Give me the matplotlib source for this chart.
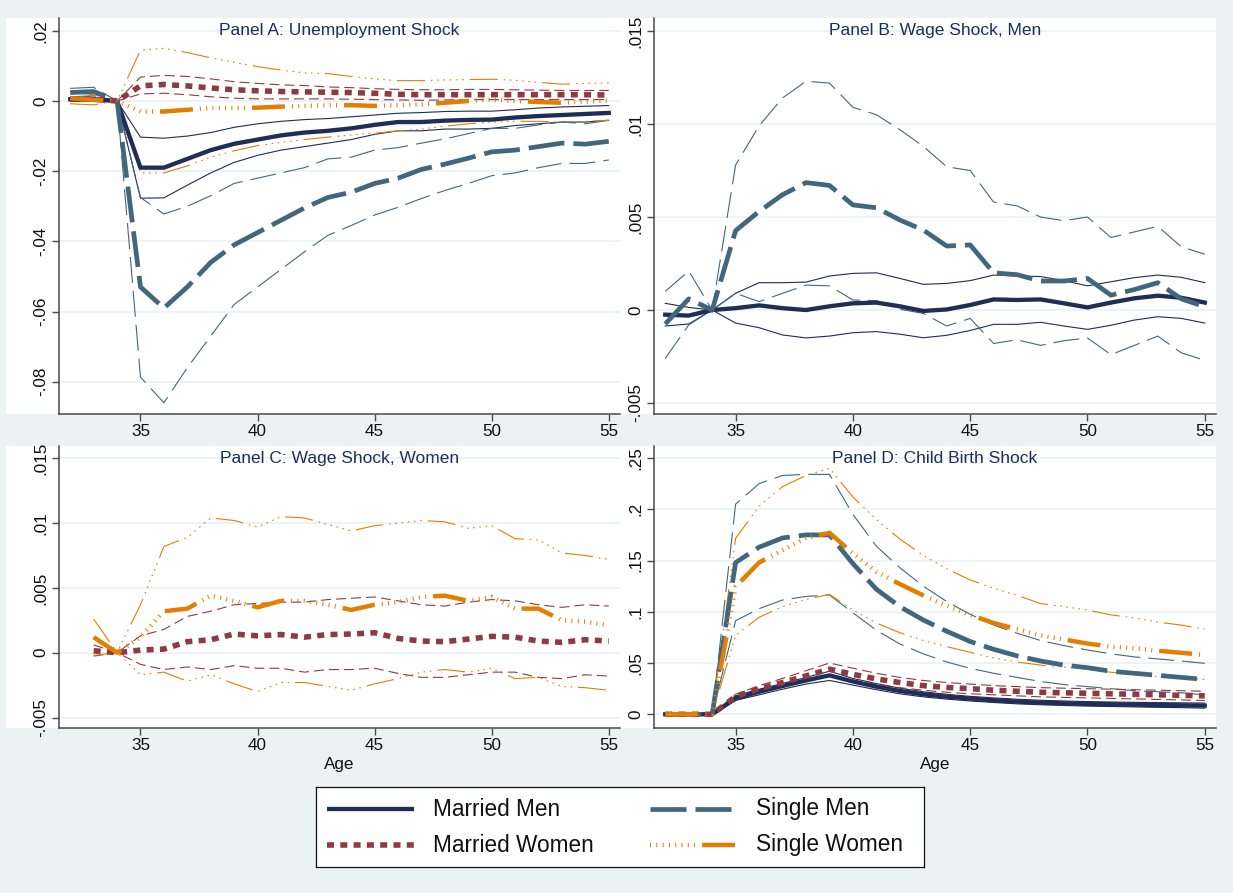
import numpy as np
import matplotlib
matplotlib.use("Agg")
import matplotlib.pyplot as plt
from matplotlib.patches import Rectangle

nan = np.nan

# ---- data ----
AGES = list(range(32, 56))

# Panel A: unemployment shock
A_MM = [0.0005, 0.0004, 0, -0.019, -0.019, -0.0165, -0.014, -0.0122, -0.011, -0.0098, -0.009, -0.0085,
        -0.0078, -0.0068, -0.006, -0.006, -0.0056, -0.0054, -0.0053, -0.0047, -0.0043, -0.004, -0.0037, -0.0034]
A_MM_HI = [0.001, 0.0009, 0, -0.0103, -0.0106, -0.010, -0.009, -0.0075, -0.0065, -0.0058, -0.0053, -0.005,
           -0.0045, -0.004, -0.0035, -0.0033, -0.003, -0.0029, -0.0029, -0.0025, -0.002, -0.0017, -0.0015, -0.0013]
A_MM_LO = [0.0, 0.0, 0, -0.0277, -0.0276, -0.024, -0.0205, -0.0175, -0.0155, -0.014, -0.013, -0.012,
           -0.011, -0.0095, -0.0085, -0.0085, -0.008, -0.008, -0.0078, -0.007, -0.0065, -0.006, -0.006, -0.0055]
A_SM = [0.0024, 0.0027, 0, -0.053, -0.059, -0.053, -0.046, -0.041, -0.0375, -0.034, -0.0305, -0.0275,
        -0.026, -0.0235, -0.022, -0.0195, -0.018, -0.0163, -0.0145, -0.014, -0.013, -0.012, -0.0123, -0.0115]
A_SM_HI = [0.0036, 0.0039, 0, -0.0275, -0.0322, -0.030, -0.027, -0.0235, -0.022, -0.0205, -0.019, -0.0165,
           -0.016, -0.014, -0.0133, -0.012, -0.0108, -0.0093, -0.0078, -0.0078, -0.0068, -0.006, -0.0065, -0.0055]
A_SM_LO = [0.0012, 0.0015, 0, -0.0787, -0.086, -0.076, -0.067, -0.058, -0.053, -0.048, -0.043, -0.0383,
           -0.0355, -0.0325, -0.0303, -0.0278, -0.0255, -0.0235, -0.0213, -0.0205, -0.019, -0.0178, -0.0178, -0.0168]
A_MW = [0.0006, 0.0005, 0, 0.0043, 0.0047, 0.0043, 0.0037, 0.0032, 0.0029, 0.0027, 0.0026, 0.0025,
        0.0024, 0.0022, 0.0019, 0.0018, 0.0018, 0.0018, 0.0018, 0.0018, 0.0018, 0.0018, 0.0018, 0.0017]
A_MW_HI = [0.0012, 0.0011, 0, 0.0068, 0.0073, 0.007, 0.0063, 0.0055, 0.005, 0.0046, 0.0044, 0.004,
           0.0038, 0.0035, 0.0033, 0.0032, 0.0032, 0.0033, 0.0033, 0.0032, 0.0031, 0.003, 0.003, 0.003]
A_MW_LO = [0.0, -0.0001, 0, 0.002, 0.0022, 0.0018, 0.0012, 0.0008, 0.0006, 0.0006, 0.0006, 0.0006,
           0.0005, 0.0004, 0.0003, 0.0002, 0.0003, 0.0004, 0.0004, 0.0004, 0.0004, 0.0004, 0.0004, 0.0004]
A_SW = [0.0008, 0.0003, 0, -0.003, -0.003, -0.0025, -0.002, -0.002, -0.0019, -0.0016, -0.0014, -0.0012,
        -0.0012, -0.0014, -0.0012, -0.001, -0.0005, 0.0, 0.0004, 0.0, -0.0003, -0.0005, -0.0002, 0.0002]
A_SW_HI = [0.0025, 0.0018, 0, 0.0145, 0.015, 0.0138, 0.0123, 0.011, 0.0098, 0.0088, 0.008, 0.0078,
           0.007, 0.0063, 0.0058, 0.0058, 0.006, 0.0061, 0.0062, 0.0059, 0.0053, 0.0048, 0.005, 0.0052]
A_SW_LO = [-0.0008, -0.0011, 0, -0.0205, -0.0205, -0.0185, -0.016, -0.0142, -0.0127, -0.0118, -0.011, -0.0103,
           -0.0097, -0.0092, -0.0085, -0.008, -0.0072, -0.0065, -0.006, -0.0058, -0.0058, -0.006, -0.0058, -0.0055]

# Panel B: wage shock, men
B_MM = [-0.00025, -0.0003, 0, 0.0001, 0.00025, 0.0001, 0.0, 0.0002, 0.00036, 0.0004, 0.0002, -0.00005,
        0.00003, 0.00027, 0.00057, 0.00054, 0.00057, 0.00036, 0.00014, 0.0004, 0.00063, 0.00077, 0.00066, 0.0004]
B_MM_HI = [0.00036, 0.00014, 0, 0.0009, 0.00147, 0.00147, 0.0015, 0.00183, 0.00197, 0.002, 0.0017, 0.00138,
           0.00143, 0.00158, 0.00188, 0.00183, 0.0018, 0.00158, 0.0013, 0.00152, 0.00174, 0.00188, 0.00176, 0.00147]
B_MM_LO = [-0.00086, -0.00075, 0, -0.0007, -0.00095, -0.00134, -0.0015, -0.0014, -0.00122, -0.00116, -0.0013, -0.00149,
           -0.00136, -0.0011, -0.00077, -0.00077, -0.00066, -0.00086, -0.00104, -0.00082, -0.00054, -0.00036, -0.00045, -0.0007]
B_SM = [-0.00075, 0.0006, 0, 0.00427, 0.0053, 0.0062, 0.00685, 0.0067, 0.00565, 0.0055, 0.00484, 0.0043,
        0.00344, 0.0035, 0.002, 0.0019, 0.00156, 0.00156, 0.0017, 0.0008, 0.0011, 0.00147, 0.0006, 0.00018]
B_SM_HI = [0.001, 0.0021, 0, 0.0078, 0.0099, 0.0114, 0.0123, 0.0122, 0.0109, 0.0105, 0.0097, 0.0088,
           0.0077, 0.0075, 0.0058, 0.0056, 0.005, 0.0048, 0.005, 0.0039, 0.0042, 0.0045, 0.0034, 0.003]
B_SM_LO = [-0.0026, -0.0008, 0, 0.0009, 0.00045, 0.0009, 0.00134, 0.0013, 0.00054, 0.0005, 0.00004, -0.00018,
           -0.00086, -0.00045, -0.0018, -0.0016, -0.0019, -0.00165, -0.0015, -0.0024, -0.0019, -0.0014, -0.0023, -0.0027]

# Panel C: wage shock, women (no estimate at 32)
C_MW = [nan, 0.00015, 0, 0.0002, 0.00028, 0.00085, 0.001, 0.00144, 0.0013, 0.0014, 0.0012, 0.0014,
        0.00144, 0.00154, 0.0011, 0.0009, 0.00085, 0.00105, 0.00126, 0.0012, 0.0009, 0.0008, 0.001, 0.0009]
C_MW_HI = [nan, 0.0006, 0, 0.0013, 0.0018, 0.0028, 0.0032, 0.0037, 0.0038, 0.0039, 0.0039, 0.0041,
           0.0042, 0.0043, 0.004, 0.0037, 0.0036, 0.0039, 0.0041, 0.004, 0.0037, 0.0035, 0.0037, 0.0036]
C_MW_LO = [nan, -0.00026, 0, -0.0009, -0.0013, -0.0011, -0.0013, -0.001, -0.0012, -0.0012, -0.0015, -0.0013,
           -0.0013, -0.0012, -0.0016, -0.0019, -0.0019, -0.0017, -0.0015, -0.0015, -0.0019, -0.002, -0.0017, -0.0018]
C_SW = [nan, 0.0012, 0, 0.0012, 0.0032, 0.0034, 0.0044, 0.004, 0.0035, 0.004, 0.004, 0.0037,
        0.0033, 0.0037, 0.0039, 0.0043, 0.0044, 0.004, 0.0043, 0.0034, 0.0034, 0.0025, 0.0024, 0.0021]
C_SW_HI = [nan, 0.0026, 0, 0.0037, 0.0082, 0.0089, 0.0104, 0.0102, 0.0097, 0.0105, 0.0104, 0.0099,
           0.0094, 0.0098, 0.01, 0.0102, 0.0101, 0.0096, 0.0098, 0.0088, 0.0087, 0.0077, 0.0075, 0.0072]
C_SW_LO = [nan, -0.0002, 0, -0.0017, -0.0015, -0.0022, -0.0017, -0.0024, -0.003, -0.0023, -0.0023, -0.0026,
           -0.0029, -0.0024, -0.002, -0.0015, -0.0013, -0.0015, -0.0012, -0.002, -0.0019, -0.0026, -0.0027, -0.0029]

# Panel D: child birth shock
D_MM = [0, 0, 0, 0.0156, 0.022, 0.0276, 0.033, 0.038, 0.032, 0.027, 0.0228, 0.0195,
        0.0172, 0.0153, 0.0137, 0.0124, 0.0114, 0.0107, 0.0101, 0.0098, 0.0094, 0.0091, 0.0088, 0.0085]
D_MM_HI = [0, 0, 0, 0.018, 0.0245, 0.030, 0.036, 0.042, 0.035, 0.030, 0.0255, 0.022,
           0.0195, 0.0175, 0.016, 0.0147, 0.0137, 0.013, 0.0124, 0.012, 0.0117, 0.0114, 0.0112, 0.011]
D_MM_LO = [0, 0, 0, 0.0135, 0.019, 0.0245, 0.0295, 0.033, 0.0285, 0.024, 0.020, 0.017,
           0.0148, 0.013, 0.0115, 0.0102, 0.0093, 0.0086, 0.008, 0.0076, 0.0072, 0.0068, 0.0065, 0.006]
D_MW = [0, 0, 0, 0.0175, 0.025, 0.031, 0.0375, 0.044, 0.039, 0.0345, 0.031, 0.028,
        0.0262, 0.025, 0.0235, 0.0225, 0.0215, 0.021, 0.0205, 0.020, 0.0195, 0.019, 0.0185, 0.018]
D_MW_HI = [0, 0, 0, 0.0195, 0.028, 0.035, 0.0425, 0.050, 0.045, 0.040, 0.036, 0.033,
           0.031, 0.0295, 0.028, 0.027, 0.026, 0.0255, 0.025, 0.0245, 0.024, 0.0235, 0.023, 0.0225]
D_MW_LO = [0, 0, 0, 0.0155, 0.022, 0.0275, 0.033, 0.038, 0.0335, 0.029, 0.026, 0.0235,
           0.0215, 0.020, 0.019, 0.018, 0.017, 0.0165, 0.016, 0.0155, 0.015, 0.0145, 0.014, 0.0135]
D_SM = [0, 0, 0, 0.148, 0.163, 0.172, 0.175, 0.175, 0.147, 0.122, 0.105, 0.092,
        0.081, 0.071, 0.0634, 0.057, 0.052, 0.048, 0.0455, 0.042, 0.040, 0.038, 0.036, 0.034]
D_SM_HI = [0, 0, 0, 0.205, 0.225, 0.233, 0.234, 0.234, 0.195, 0.164, 0.143, 0.125,
           0.11, 0.0975, 0.087, 0.079, 0.072, 0.067, 0.0627, 0.059, 0.056, 0.054, 0.052, 0.0497]
D_SM_LO = [0, 0, 0, 0.0913, 0.103, 0.1115, 0.115, 0.1164, 0.099, 0.082, 0.0686, 0.059,
           0.051, 0.0449, 0.040, 0.036, 0.032, 0.029, 0.027, 0.025, 0.023, 0.022, 0.021, 0.0189]
D_SW = [0, 0, 0, 0.1245, 0.148, 0.16, 0.172, 0.177, 0.157, 0.139, 0.127, 0.116,
        0.106, 0.097, 0.089, 0.083, 0.077, 0.073, 0.069, 0.066, 0.0644, 0.062, 0.060, 0.0579]
D_SW_HI = [0, 0, 0, 0.1716, 0.203, 0.222, 0.233, 0.24, 0.212, 0.19, 0.171, 0.155,
           0.142, 0.131, 0.123, 0.116, 0.108, 0.105, 0.1017, 0.097, 0.094, 0.090, 0.087, 0.083]
D_SW_LO = [0, 0, 0, 0.077, 0.0946, 0.105, 0.112, 0.117, 0.1017, 0.089, 0.0796, 0.072,
           0.066, 0.0605, 0.055, 0.051, 0.048, 0.046, 0.0439, 0.041, 0.039, 0.037, 0.035, 0.034]

X_TICKS = [35, 40, 45, 50, 55]
A_YTICKS = [0.02, 0, -0.02, -0.04, -0.06, -0.08]
A_YLABELS = [".02", "0", "-.02", "-.04", "-.06", "-.08"]
BC_YTICKS = [0.015, 0.01, 0.005, 0, -0.005]
BC_YLABELS = [".015", ".01", ".005", "0", "-.005"]
D_YTICKS = [0.25, 0.2, 0.15, 0.1, 0.05, 0]
D_YLABELS = [".25", ".2", ".15", ".1", ".05", "0"]

GROUP_NAMES = {"MM": "Married Men", "SM": "Single Men", "MW": "Married Women", "SW": "Single Women"}

# ---- styling ----
FIG_W, FIG_H = 1233, 893
BG = "#eaf2f3"
TITLE_COLOR = "#1c2e5c"
plt.rcParams["font.family"] = ["Liberation Sans", "DejaVu Sans"]
plt.rcParams["lines.scale_dashes"] = False


def pt(*px_vals):
    """Convert pixel lengths (at 100 dpi) to points."""
    return tuple(v * 0.72 for v in px_vals)


SW_PATTERN = pt(*([33, 7] + [1, 5.3] * 7 + [1, 7]))
SW_CI_PATTERN = pt(*([28, 6] + [1.6, 4.6] * 5 + [1.6, 6]))

STYLES = {
    "MM": dict(color="#1f2d57",
               est=dict(lw=3.1, ls="-"),
               ci=dict(lw=0.8, ls="-")),
    "MW": dict(color="#8f3a42",
               est=dict(lw=4.0, ls=(0, pt(7, 6.3))),
               ci=dict(lw=0.8, ls=(0, pt(10, 5)))),
    "SM": dict(color="#41677f",
               est=dict(lw=3.4, ls=(0, pt(36, 9))),
               ci=dict(lw=0.8, ls=(0, pt(26, 8)))),
    "SW": dict(color="#e37e00",
               est=dict(lw=3.2, ls=(0, SW_PATTERN)),
               ci=dict(lw=0.8, ls=(0, SW_CI_PATTERN))),
}


def fig_box(left, top, right, bottom):
    return [left / FIG_W, 1 - bottom / FIG_H, (right - left) / FIG_W, (bottom - top) / FIG_H]


def draw_panel(fig, title, axes_px, white_px, ylim, yticks, ylabels, series, title_base, show_age):
    x0, y0, x1, y1 = white_px
    fig.add_artist(Rectangle((x0 / FIG_W, 1 - y1 / FIG_H), (x1 - x0) / FIG_W, (y1 - y0) / FIG_H,
                             transform=fig.transFigure, facecolor="white", edgecolor="none", zorder=-5))

    ax = fig.add_axes(fig_box(*axes_px))
    ax.set_facecolor("white")

    # confidence bands first, then the point estimates on top
    for key, est, lo, hi in series:
        st = STYLES[key]
        for band in (lo, hi):
            ax.plot(AGES, band, color=st["color"], linewidth=st["ci"]["lw"], linestyle=st["ci"]["ls"],
                    dash_capstyle="butt", zorder=2)
    for key, est, lo, hi in series:
        st = STYLES[key]
        ax.plot(AGES, est, color=st["color"], linewidth=st["est"]["lw"], linestyle=st["est"]["ls"],
                dash_capstyle="butt", solid_joinstyle="round", zorder=3)

    ax.set_xlim(31.52, 55.48)
    ax.set_ylim(*ylim)
    ax.set_xticks(X_TICKS)
    ax.set_yticks(yticks, ylabels)
    for lbl in ax.get_yticklabels():
        lbl.set_rotation(90)
        lbl.set_va("center")

    ax.yaxis.grid(True, color=BG, linewidth=1.3)
    ax.set_axisbelow(True)
    for side in ("top", "right"):
        ax.spines[side].set_visible(False)
    for side in ("left", "bottom"):
        ax.spines[side].set_color("#4a4a4a")
        ax.spines[side].set_linewidth(1.1)
    ax.tick_params(axis="both", length=5, width=1.0, color="#4a4a4a", labelsize=12.3,
                   labelcolor="#111111", pad=2.5)

    cx = (axes_px[0] + axes_px[2]) / 2
    fig.text(cx / FIG_W, 1 - title_base / FIG_H, title, ha="center", va="baseline",
             fontsize=12.5, color=TITLE_COLOR)
    if show_age:
        fig.text(cx / FIG_W, 1 - 765 / FIG_H, "Age", ha="center", va="center", fontsize=12.3, color="#111111")
    return ax


fig = plt.figure(figsize=(FIG_W / 100, FIG_H / 100), dpi=100, facecolor=BG)

draw_panel(fig, "Panel A: Unemployment Shock", (59, 18, 620, 414), (6, 18, 620, 414),
           (-0.0892, 0.02365), A_YTICKS, A_YLABELS,
           [("MM", A_MM, A_MM_LO, A_MM_HI), ("SM", A_SM, A_SM_LO, A_SM_HI),
            ("MW", A_MW, A_MW_LO, A_MW_HI), ("SW", A_SW, A_SW_LO, A_SW_HI)],
           35, False)
draw_panel(fig, "Panel B: Wage Shock, Men", (654, 18, 1216, 414), (620, 18, 1216, 414),
           (-0.00559, 0.0157), BC_YTICKS, BC_YLABELS,
           [("MM", B_MM, B_MM_LO, B_MM_HI), ("SM", B_SM, B_SM_LO, B_SM_HI)],
           35, False)
draw_panel(fig, "Panel C: Wage Shock, Women", (59, 446, 620, 728), (6, 446, 620, 728),
           (-0.00581, 0.01595), BC_YTICKS, BC_YLABELS,
           [("MW", C_MW, C_MW_LO, C_MW_HI), ("SW", C_SW, C_SW_LO, C_SW_HI)],
           463, True)
draw_panel(fig, "Panel D: Child Birth Shock", (654, 446, 1216, 728), (620, 446, 1216, 728),
           (-0.01336, 0.2617), D_YTICKS, D_YLABELS,
           [("MM", D_MM, D_MM_LO, D_MM_HI), ("SM", D_SM, D_SM_LO, D_SM_HI),
            ("MW", D_MW, D_MW_LO, D_MW_HI), ("SW", D_SW, D_SW_LO, D_SW_HI)],
           463, True)

# legend box, drawn in pixel coordinates
lx0, ly0, lx1, ly1 = 316, 787, 924, 867
lax = fig.add_axes(fig_box(lx0, ly0, lx1, ly1))
lax.set_xlim(lx0, lx1)
lax.set_ylim(ly1, ly0)
lax.set_xticks([])
lax.set_yticks([])
lax.set_facecolor("white")
for sp in lax.spines.values():
    sp.set_color("#111111")
    sp.set_linewidth(0.9)

legend_slots = [("MM", 326.5, 414, 809, 433), ("MW", 326.5, 414, 845, 433),
                ("SM", 650, 735, 809, 756), ("SW", 650, 735, 845, 756)]
for key, sx0, sx1, sy, tx in legend_slots:
    st = STYLES[key]
    ls = st["est"]["ls"]
    if key == "SW":
        ls = (pt(40)[0], SW_PATTERN)
    lax.plot([sx0, sx1], [sy, sy], color=st["color"], linewidth=st["est"]["lw"], linestyle=ls,
             dash_capstyle="butt", solid_capstyle="butt")
    lax.text(tx, sy, GROUP_NAMES[key], ha="left", va="center", fontsize=16.3, color="#111111")

fig.savefig("out.png", dpi=100, facecolor=BG)
